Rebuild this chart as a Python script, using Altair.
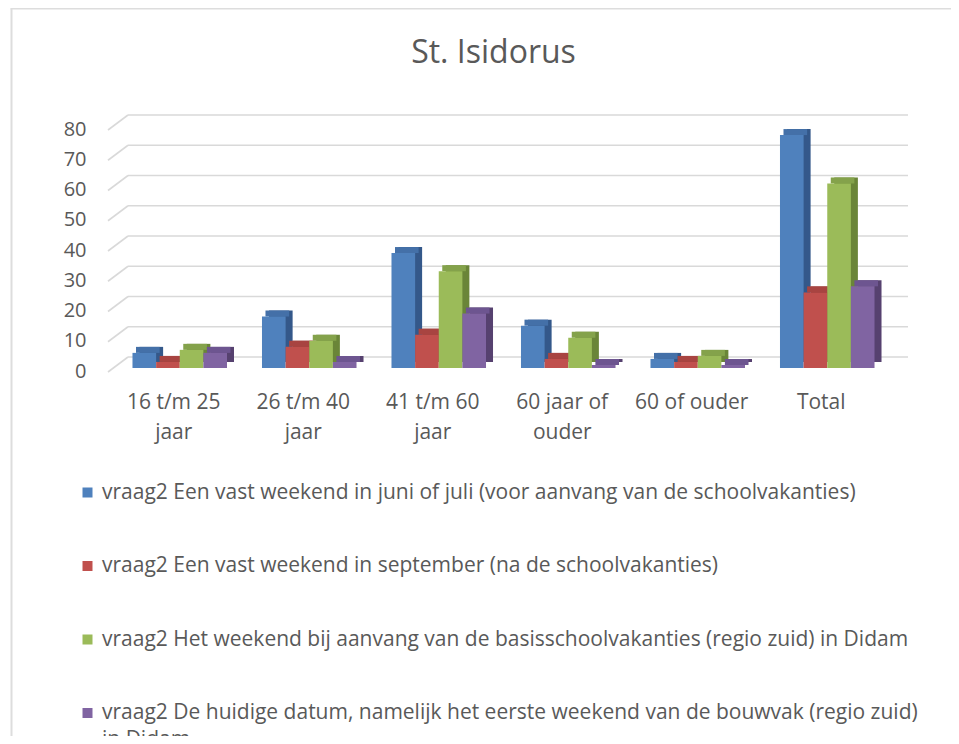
import altair as alt
import pandas as pd

categories = ["16 t/m 25 jaar", "26 t/m 40 jaar", "41 t/m 60 jaar",
              "60 jaar of ouder", "60 of ouder", "Total"]
series = [
    "vraag2 Een vast weekend in juni of juli (voor aanvang van de schoolvakanties)",
    "vraag2 Een vast weekend in september (na de schoolvakanties)",
    "vraag2 Het weekend bij aanvang van de basisschoolvakanties (regio zuid) in Didam",
    "vraag2 De huidige datum, namelijk het eerste weekend van de bouwvak (regio zuid) in Didam",
]
vals_juni_juli = [5, 17, 38, 14, 3, 77]
vals_september = [2, 7, 11, 3, 2, 25]
vals_basisschool = [6, 9, 32, 10, 4, 61]
vals_bouwvak = [5, 2, 18, 1, 1, 27]
y_ticks = [0, 10, 20, 30, 40, 50, 60, 70, 80]

colors = ["#4F81BD", "#C0504D", "#9BBB59", "#8064A2"]
side_colors = ["#34588A", "#8A3734", "#6A8538", "#56416F"]
top_colors = ["#4470A8", "#A84441", "#84A24B", "#6D5590"]

rows = []
for s, vals in zip(series, [vals_juni_juli, vals_september, vals_basisschool, vals_bouwvak]):
    for c, v in zip(categories, vals):
        rows.append({"cat": c, "series": s, "value": v})
df = pd.DataFrame(rows)
grid_df = pd.DataFrame({"v": y_ticks})

W, H = 777, 242
BW = W / 6 * (1 - 0.27)
FONT = "Open Sans"
TXT = "#595959"

xscale = alt.Scale(domain=categories, paddingInner=0.27, paddingOuter=0.135)
yscale = alt.Scale(domain=[0, 80], nice=False)

x_axis = alt.Axis(labelAngle=0, domain=False, ticks=False, grid=False, labelPadding=23,
                  labelFont=FONT, labelFontSize=21, labelColor=TXT, labelLineHeight=30,
                  labelExpr="(datum.label == '60 of ouder' || datum.label == 'Total') ? datum.label : [substring(datum.label, 0, lastindexof(datum.label, ' ')), substring(datum.label, lastindexof(datum.label, ' ') + 1)]")
y_axis = alt.Axis(values=y_ticks, domain=False, ticks=False, grid=False,
                  labelPadding=23, labelOffset=3, labelFont=FONT,
                  labelFontSize=20, labelColor=TXT)

base = alt.Chart(df)

grid = alt.Chart(grid_df).mark_rule(color="#d9d9d9", strokeWidth=1.6, yOffset=-11).encode(
    y=alt.Y("v:Q", scale=yscale, axis=y_axis, title=None),
    x=alt.value(19), x2=alt.value(W + 22),
)
diag = alt.Chart(grid_df).mark_rule(color="#d9d9d9", strokeWidth=1.6, yOffset=4, y2Offset=-11).encode(
    y=alt.Y("v:Q", scale=yscale, axis=y_axis, title=None),
    y2="v:Q",
    x=alt.value(-1), x2=alt.value(19),
)

side = base.mark_bar(yOffset=-6, y2Offset=-6).encode(
    x=alt.X("cat:N", scale=xscale, sort=categories, axis=x_axis, title=None),
    xOffset=alt.XOffset("series:N", sort=series,
                        scale=alt.Scale(domain=series, range=[13, 13 + BW])),
    y=alt.Y("value:Q", scale=yscale, axis=y_axis, title=None),
    color=alt.Color("series:N", scale=alt.Scale(domain=series, range=side_colors), legend=None),
)

top = base.mark_bar(yOffset=-6, y2Offset=0).encode(
    x=alt.X("cat:N", scale=xscale, sort=categories, axis=x_axis, title=None),
    xOffset=alt.XOffset("series:N", sort=series,
                        scale=alt.Scale(domain=series, range=[9.5, 9.5 + BW])),
    y=alt.Y("value:Q", scale=yscale, axis=y_axis, title=None),
    y2="value:Q",
    fill=alt.Fill("series:N", scale=alt.Scale(domain=series, range=top_colors), legend=None),
)

front = base.mark_bar().encode(
    x=alt.X("cat:N", scale=xscale, sort=categories, axis=x_axis, title=None),
    xOffset=alt.XOffset("series:N", sort=series,
                        scale=alt.Scale(domain=series, range=[6, 6 + BW])),
    y=alt.Y("value:Q", scale=yscale, axis=y_axis, title=None),
    color=alt.Color("series:N", sort=series,
                    scale=alt.Scale(domain=series, range=colors),
                    legend=alt.Legend(title=None, orient="none", legendX=-32, legendY=356,
                                      direction="vertical", symbolType="square",
                                      symbolSize=100, symbolStrokeWidth=0,
                                      labelFont=FONT, labelFontSize=21, labelColor=TXT,
                                      labelLimit=1000, labelOffset=4, rowPadding=51.5,
                                      padding=0,
                                      labelExpr="length(datum.label) > 85 ? [substring(datum.label, 0, lastindexof(datum.label, ' in ')), substring(datum.label, lastindexof(datum.label, ' in ') + 1)] : datum.label")),
)

frame_df = pd.DataFrame({"k": [0]})
frame_left = alt.Chart(frame_df).mark_rule(color="#dddddd", strokeWidth=2).encode(
    x=alt.value(-97.5), y=alt.value(-117.5), y2=alt.value(H + 380))
frame_top = alt.Chart(frame_df).mark_rule(color="#dddddd", strokeWidth=2).encode(
    x=alt.value(-98.5), x2=alt.value(W + 70), y=alt.value(-117.5))

chart = alt.layer(frame_left, frame_top, grid, diag, side, top, front).resolve_scale(
    xOffset="independent", color="independent"
).properties(
    width=W, height=H,
    autosize="none",
    padding={"left": 101, "top": 118, "right": 65, "bottom": 368},
    title=alt.TitleParams("St. Isidorus", font=FONT, fontSize=32, color=TXT,
                          fontWeight="normal", anchor="middle", offset=-62, dx=-4),
).configure(
    style={"guide-label": {"lineHeight": 27}},
    view=alt.ViewConfig(stroke=None),
)

chart.save("out.html", embed_options={"renderer": "svg", "actions": False})
